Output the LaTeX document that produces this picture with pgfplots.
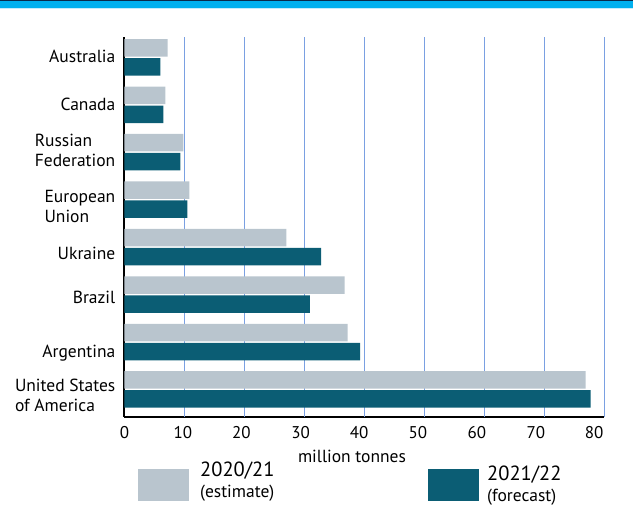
\documentclass[border=0pt]{standalone}
\usepackage{fontspec}
\setmainfont{PT Sans}
\usepackage{pgfplots}
\pgfplotsset{compat=1.18}
\definecolor{barGrey}{HTML}{B9C5CE}
\definecolor{barTeal}{HTML}{0B5D74}
\definecolor{gridBlue}{RGB}{122,160,226}
\definecolor{bandBlue}{HTML}{00B0EF}
\definecolor{bandDark}{HTML}{0A2B4C}
\definecolor{bandLight}{HTML}{C6ECFB}
\begin{document}
\begin{tikzpicture}
% top band
\fill[bandBlue] (0pt,519pt) rectangle (633pt,528pt);
\fill[bandDark] (0pt,526.5pt) rectangle (633pt,528pt);
\fill[bandLight] (0pt,518.7pt) rectangle (633pt,519.8pt);
\begin{axis}[
  at={(124.5pt,111pt)}, anchor=south west,
  scale only axis, width=479.8pt, height=380pt,
  xbar, bar width=17.5pt,
  xmin=0, xmax=80, ymin=-0.58, ymax=7.428,
  axis x line*=bottom, axis y line*=left,
  axis line style={-, black, line width=2pt},
  xtick={0,9.75,19.48,29.35,39.13,48.93,58.74,68.58,78.32},
  xticklabels={0,10,20,30,40,50,60,70,80},
  extra x ticks={10,20,...,80},
  extra x tick labels={},
  extra x tick style={grid=major},
  ytick={-0.126,0.797,1.933,2.877,3.852,5.031,6.006,7.012},
  yticklabels={{United States\\of America},{\raisebox{0pt}[\height][0pt]{Argentina}},Brazil,Ukraine,{European\\Union},{Russian\\Federation},Canada,Australia},
  major tick length=0pt,
  grid style={gridBlue, line width=1pt},
  /pgf/number format/assume math mode=true,
  xticklabel style={font=\fontsize{17}{20}\selectfont, inner sep=0pt, anchor=north, yshift=-9.5pt},
  yticklabel style={font=\fontsize{17.5}{20}\selectfont, align=left, inner sep=0pt, anchor=east, xshift=-9pt},
  every axis plot/.append style={draw=none},
]
\addplot[fill=barGrey, bar shift=9.5pt] coordinates {
 (76.9,0) (37.2,1) (36.7,2) (27.0,3) (10.8,4) (9.8,5) (6.8,6) (7.2,7)};
\addplot[fill=barTeal, bar shift=-9.5pt] coordinates {
 (77.7,0) (39.3,1) (30.9,2) (32.8,3) (10.5,4) (9.3,5) (6.5,6) (6.0,7)};
\end{axis}
% x label
\node[anchor=base, font=\fontsize{17.5}{19}\selectfont, inner sep=0pt] at (352pt,65.3pt) {million tonnes};
% legend
\fill[barGrey] (138pt,27pt) rectangle (189pt,59pt);
\fill[barTeal] (428pt,27pt) rectangle (479pt,59pt);
\node[anchor=base west, inner sep=0pt, font=\fontsize{20.5}{24}\selectfont] at (200pt,51.3pt) {2020/21};
\node[anchor=base west, inner sep=0pt, font=\fontsize{17.5}{19}\selectfont] at (200pt,30pt) {(estimate)};
\node[anchor=base west, inner sep=0pt, font=\fontsize{20.5}{24}\selectfont] at (487pt,47pt) {2021/22};
\node[anchor=base west, inner sep=0pt, font=\fontsize{17.5}{19}\selectfont] at (487pt,26.3pt) {(forecast)};
\pgfresetboundingbox
\useasboundingbox (0pt,0pt) rectangle (633pt,528pt);
\end{tikzpicture}
\end{document}
